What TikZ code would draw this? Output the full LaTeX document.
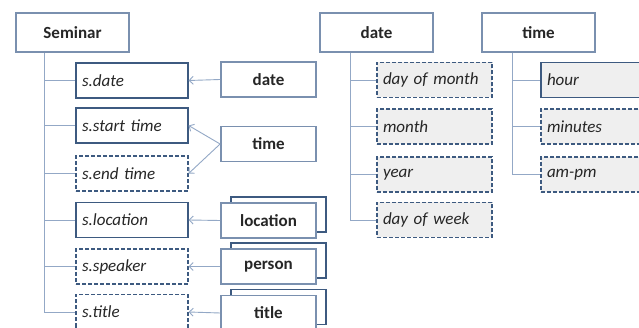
\documentclass[tikz,border=0pt]{standalone}
\usepackage{fontspec}
\setmainfont{Carlito}
\usetikzlibrary{arrows.meta}
\definecolor{framedark}{HTML}{3D5A80}
\definecolor{framelight}{HTML}{7A90AF}
\definecolor{linkblue}{HTML}{93A8C6}
\definecolor{subfill}{HTML}{EFEFEF}
\definecolor{labelgray}{HTML}{262626}
\newcommand*{\lblsize}{\fontsize{17}{19}\selectfont}
\tikzset{
  topbox/.style   = {draw=framelight, line width=2pt, fill=white, minimum width=113pt, minimum height=39pt,
                     font=\lblsize\bfseries, text=labelgray},
  fieldbox/.style = {draw=framedark, line width=1.2pt, fill=white, minimum width=112pt, minimum height=35pt,
                     text width=100pt, align=left, inner xsep=6pt, font=\lblsize\itshape, text=labelgray},
  subbox/.style   = {fieldbox, fill=subfill, minimum width=115pt, text width=103pt},
  optional/.style = {dash pattern=on 4pt off 2pt},
  typebox/.style  = {draw=framelight, line width=1.8pt, fill=white, minimum width=95pt, minimum height=35pt,
                     font=\lblsize\bfseries, text=labelgray},
  typeback/.style = {draw=framedark, line width=1.2pt, fill=white, minimum width=95pt, minimum height=35pt},
  link/.style     = {draw=linkblue, line width=0.9pt},
  typeref/.style  = {link, -{Straight Barb[length=4pt,width=8pt]}},
}
\begin{document}
\begin{tikzpicture}[x=1pt, y=-1pt]
    \clip (0,0) rectangle (639,328);
    \fill[white] (0,0) rectangle (639,328);

    % record and its fields
    \node[topbox] (sem) at (72.5,32.5) {Seminar};
    \node[fieldbox]          (sdate)  at (132,80.5)  {s.date};
    \node[fieldbox]          (sstart) at (132,125.5) {s.start time};
    \node[fieldbox,optional] (send)   at (132,173.5) {s.end time};
    \node[fieldbox]          (sloc)   at (132,220)   {s.location};
    \node[fieldbox,optional] (sspk)   at (132,266.5) {s.speaker};
    \node[fieldbox,optional] (stitle) at (132,312)   {s.title};

    \coordinate (semtrunk) at ([xshift=29pt]sem.south west);
    \draw[link] (semtrunk) |- (stitle.west);
    \draw[link] (semtrunk |- sdate.west)  -- (sdate.west);
    \draw[link] (semtrunk |- sstart.west) -- (sstart.west);
    \draw[link] (semtrunk |- send.west)   -- (send.west);
    \draw[link] (semtrunk |- sloc.west)   -- (sloc.west);
    \draw[link] (semtrunk |- sspk.west)   -- (sspk.west);

    % types of the fields
    \node[typeback] (locback)   at (278.5,214.5) {};
    \node[typeback] (spkback)   at (278.5,260.5) {};
    \node[typeback] (titleback) at (278.5,307)   {};
    \node[typebox] (tdate)  at (268.5,79.5)  {date};
    \node[typebox] (ttime)  at (268.5,144)   {time};
    \node[typebox] (tloc)   at (268.5,220.5) {location};
    \node[typebox] (tspk)   at (268.5,266.5) {person};
    \node[typebox] (ttitle) at (268.5,313)   {title};

    \draw[typeref] (tdate.west)  -- (sdate.east);
    \draw[typeref] (ttime.west)  -- (sstart.east);
    \draw[typeref] (ttime.west)  -- (send.east);
    \draw[typeref] (tloc.west)   -- (sloc.east);
    \draw[typeref] (tspk.west)   -- (sspk.east);
    \draw[typeref] (ttitle.west) -- (stitle.east);

    % date record
    \node[topbox] (date) at (376.5,32.5) {date};
    \node[subbox,optional] (dmonth) at (434.5,80)    {day of month};
    \node[subbox,optional] (month)  at (434.5,126.5) {month};
    \node[subbox,optional] (year)   at (434.5,174.5) {year};
    \node[subbox,optional] (dweek)  at (434.5,220)   {day of week};

    \coordinate (datetrunk) at ([xshift=31pt]date.south west);
    \draw[link] (datetrunk) |- (dweek.west);
    \draw[link] (datetrunk |- dmonth.west) -- (dmonth.west);
    \draw[link] (datetrunk |- month.west)  -- (month.west);
    \draw[link] (datetrunk |- year.west)   -- (year.west);

    % time record
    \node[topbox] (time) at (538.5,32.5) {time};
    \node[subbox]          (hour) at (598.5,80)    {hour};
    \node[subbox,optional] (mins) at (598.5,126.5) {minutes};
    \node[subbox,optional] (ampm) at (598.5,174.5) {am-pm};

    \coordinate (timetrunk) at ([xshift=31pt]time.south west);
    \draw[link] (timetrunk) |- (ampm.west);
    \draw[link] (timetrunk |- hour.west) -- (hour.west);
    \draw[link] (timetrunk |- mins.west) -- (mins.west);
\end{tikzpicture}
\end{document}
